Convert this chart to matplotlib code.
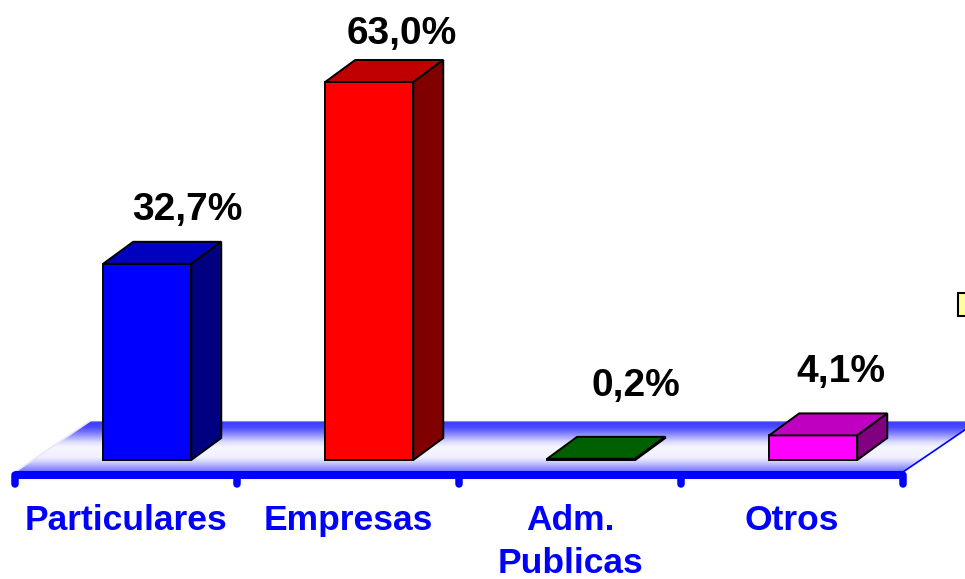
import numpy as np
import matplotlib
matplotlib.use("Agg")
import matplotlib.pyplot as plt
from matplotlib.patches import Polygon, Rectangle
from matplotlib.colors import LinearSegmentedColormap

# ---- data ---------------------------------------------------------------
categories = ["Particulares", "Empresas", "Adm.\nPublicas", "Otros"]
shares = [32.7, 63.0, 0.2, 4.1]
value_labels = ["32,7%", "63,0%", "0,2%", "4,1%"]

# ---- styling ------------------------------------------------------------
front_colors = ["#0000ff", "#ff0000", "#008000", "#ff00ff"]
top_colors = ["#0000c0", "#c00000", "#006000", "#c000c0"]
side_colors = ["#000080", "#800000", "#004000", "#800080"]
# value label placement relative to the top centre of each bar block (pixels)
label_shift_px = [(25, 22), (18, 16), (30, 41), (13, 31)]

W, H, DPI = 965, 579, 100
CAT_PX = 222.0      # pixels per category slot
UNIT_PX = 6.0       # pixels per percentage point
X0_PX = 15.0        # left end of the category axis
BASE_PX = 460.0     # bar baseline (from top of image)

fig = plt.figure(figsize=(W / DPI, H / DPI), dpi=DPI)
ax = fig.add_axes([0, 0, 1, 1])
ax.set_axis_off()
ax.set_xlim(-X0_PX / CAT_PX, (W - X0_PX) / CAT_PX)
ax.set_ylim(-(H - BASE_PX) / UNIT_PX, BASE_PX / UNIT_PX)


def dx(px):
    return px / CAT_PX


def dy(px):
    return px / UNIT_PX


n = len(categories)

# ---- floor (3-D platform with banded gradient) --------------------------
floor_front = dy(-12)
floor_back = dy(39)
floor_skew = dx(75)
floor_poly = [(0, floor_front), (n, floor_front),
              (n + floor_skew, floor_back), (floor_skew, floor_back)]

stops = [(0.0, "#c0c0ff"), (1 / 51, "#3c3cff"), (6 / 51, "#4a4aff"),
         (11 / 51, "#7474ff"), (16 / 51, "#a8a8ff"), (21 / 51, "#dcdcff"),
         (26 / 51, "#f6f6ff"), (36 / 51, "#f2f2ff"), (41 / 51, "#d0d0ff"),
         (45 / 51, "#a8a8ff"), (1.0, "#7070ff")]
floor_cmap = LinearSegmentedColormap.from_list("floor", stops)
grad = np.linspace(0, 1, 256).reshape(-1, 1)
img = ax.imshow(grad, cmap=floor_cmap, aspect="auto", origin="upper",
                extent=(0, n + floor_skew, floor_front, floor_back),
                zorder=1, interpolation="bilinear")
clip = Polygon(floor_poly, closed=True, facecolor="none", edgecolor="none",
               transform=ax.transData)
ax.add_patch(clip)
img.set_clip_path(clip)
ax.plot([n, n + floor_skew], [floor_front, floor_back], color="#0000ff",
        lw=1.2, zorder=2, clip_on=False)
ax.plot([0, floor_skew], [floor_front, floor_back], color="#e8e8ff",
        lw=1.2, zorder=2)

# ---- category axis -----------------------------------------------------
axis_y = dy(-15)
tick_end = dy(-24)
ax.plot([0, n], [axis_y, axis_y], color="#0000ff", lw=5.8,
        solid_capstyle="butt", zorder=3)
for i in range(n + 1):
    ax.plot([i, i], [axis_y, tick_end], color="#0000ff", lw=5.4,
            solid_capstyle="round", zorder=3)

label_font = dict(family="Liberation Sans", weight="bold")
for i, cat in enumerate(categories):
    for k, line in enumerate(cat.split("\n")):
        ax.text(i + 0.5, dy(-70 - 43 * k), line, ha="center", va="baseline",
                color="#0000ff", fontsize=25.5, zorder=5, **label_font)

# ---- 3-D bars -----------------------------------------------------------
bar_off = 0.397
bar_w = 0.397
depth_x = dx(30)
depth_y = dy(22)
edge = dict(edgecolor="black", linewidth=1.4, joinstyle="miter", zorder=4)

for i, v in enumerate(shares):
    left = i + bar_off
    right = left + bar_w
    ax.add_patch(Polygon([(left, 0), (right, 0), (right, v), (left, v)],
                         closed=True, facecolor=front_colors[i], **edge))
    ax.add_patch(Polygon([(left, v), (right, v), (right + depth_x, v + depth_y),
                          (left + depth_x, v + depth_y)],
                         closed=True, facecolor=top_colors[i], **edge))
    ax.add_patch(Polygon([(right, 0), (right + depth_x, depth_y),
                          (right + depth_x, v + depth_y), (right, v)],
                         closed=True, facecolor=side_colors[i], **edge))
    sx, sy = label_shift_px[i]
    ax.annotate(value_labels[i],
                xy=(left + (bar_w + depth_x) / 2, v + depth_y),
                xytext=(sx, sy), textcoords="offset pixels",
                ha="center", va="baseline", fontsize=28, color="black",
                zorder=6, **label_font)

# ---- legend frame at the right edge --------------------------------------
ax.add_patch(Rectangle((dx(958 - X0_PX), dy(BASE_PX - 316)), dx(30), dy(23),
                       facecolor="#ffff99", edgecolor="black", linewidth=1.5,
                       zorder=5, clip_on=True))

fig.savefig("out.png", dpi=DPI)
